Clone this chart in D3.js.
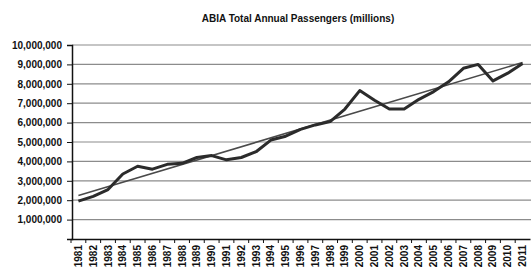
<!DOCTYPE html>
<html>
<head>
<meta charset="utf-8">
<script src="https://cdn.jsdelivr.net/npm/d3@7"></script>
<style>
  body { margin: 0; background: #fff; }
  svg text { font-family: "Liberation Sans", Arial, sans-serif; font-weight: bold; fill: #111; }
</style>
</head>
<body>
<div id="chart"></div>
<script>
// Data
var years = ["1981","1982","1983","1984","1985","1986","1987","1988","1989","1990",
             "1991","1992","1993","1994","1995","1996","1997","1998","1999","2000",
             "2001","2002","2003","2004","2005","2006","2007","2008","2009","2010","2011"];
var passengers = [1950000, 2200000, 2550000, 3350000, 3750000, 3600000, 3850000, 3900000, 4200000, 4300000,
                  4080000, 4200000, 4500000, 5100000, 5300000, 5650000, 5880000, 6050000, 6700000, 7650000,
                  7150000, 6700000, 6700000, 7200000, 7600000, 8100000, 8800000, 9000000, 8150000, 8550000, 9050000];
var yTicks = [0, 1000000, 2000000, 3000000, 4000000, 5000000, 6000000, 7000000, 8000000, 9000000, 10000000];
var title = "ABIA Total Annual Passengers (millions)";

function init() {
    var w = 531;
    var h = 274;
    var left = 72, right = 530, top = 45, bottom = 239;

    var dataset = years.map(function (y, i) { return { year: y, value: passengers[i] }; });

    var xScale = d3.scaleBand()
        .domain(years)
        .range([left - 1, right]);

    var yScale = d3.scaleLinear()
        .domain([0, 10000000])
        .range([bottom, top]);

    var svg = d3.select("#chart")
        .append("svg")
        .attr("width", w)
        .attr("height", h);

    // Title
    svg.append("text")
        .attr("x", 298)
        .attr("y", 22)
        .attr("text-anchor", "middle")
        .attr("font-size", "10px")
        .text(title);

    // Gridlines
    svg.append("g")
        .selectAll("line")
        .data(yTicks.slice(1))
        .enter()
        .append("line")
        .attr("x1", left)
        .attr("x2", w)
        .attr("y1", function (d) { return yScale(d); })
        .attr("y2", function (d) { return yScale(d); })
        .attr("stroke", "#8c8c8c")
        .attr("stroke-width", 1.2);

    // Y axis
    var yAxis = d3.axisLeft(yScale)
        .tickValues(yTicks.slice(1))
        .tickSize(5)
        .tickPadding(5)
        .tickFormat(d3.format(","));

    var gy = svg.append("g")
        .attr("class", "y axis")
        .attr("transform", "translate(" + left + ",0)")
        .call(yAxis);
    gy.select(".domain").attr("stroke", "#111").attr("stroke-width", 1.5);
    gy.selectAll(".tick line").attr("stroke", "#111");
    gy.selectAll("text").attr("font-size", "10px").attr("font-family", null).attr("fill", null);

    // X axis (labels at category centres)
    var xAxis = d3.axisBottom(xScale).tickSize(0).tickPadding(6);
    var gx = svg.append("g")
        .attr("class", "x axis")
        .attr("transform", "translate(0," + bottom + ")")
        .call(xAxis);
    gx.select(".domain").attr("stroke", "#111").attr("stroke-width", 1.5);
    gx.selectAll("text")
        .attr("font-size", "10px")
        .attr("font-family", null)
        .attr("fill", null)
        .attr("text-anchor", "end")
        .attr("dy", "0.35em")
        .attr("transform", "rotate(-90)")
        .attr("x", -6)
        .attr("y", 0);

    // Category boundary ticks
    svg.append("g")
        .selectAll("line")
        .data(years)
        .enter()
        .append("line")
        .attr("x1", function (d) { return xScale(d); })
        .attr("x2", function (d) { return xScale(d); })
        .attr("y1", bottom)
        .attr("y2", bottom + 4)
        .attr("stroke", "#111");

    // Linear trendline (least squares on the data)
    var n = dataset.length;
    var mx = d3.mean(dataset, function (d, i) { return i; });
    var my = d3.mean(dataset, function (d) { return d.value; });
    var sxy = d3.sum(dataset, function (d, i) { return (i - mx) * (d.value - my); });
    var sxx = d3.sum(dataset, function (d, i) { return (i - mx) * (i - mx); });
    var slope = sxy / sxx;
    var icpt = my - slope * mx;
    var half = xScale.bandwidth() / 2;

    svg.append("line")
        .attr("x1", xScale(years[0]) + half)
        .attr("y1", yScale(icpt))
        .attr("x2", xScale(years[n - 1]) + half)
        .attr("y2", yScale(icpt + slope * (n - 1)))
        .attr("stroke", "#4a4a4a")
        .attr("stroke-width", 1.6);

    // Data line
    var line = d3.line()
        .x(function (d) { return xScale(d.year) + half; })
        .y(function (d) { return yScale(d.value); });

    svg.append("path")
        .datum(dataset)
        .attr("fill", "none")
        .attr("stroke", "#2b2b2b")
        .attr("stroke-width", 3)
        .attr("stroke-linejoin", "round")
        .attr("d", line);
}

window.onload = init;
</script>
</body>
</html>
